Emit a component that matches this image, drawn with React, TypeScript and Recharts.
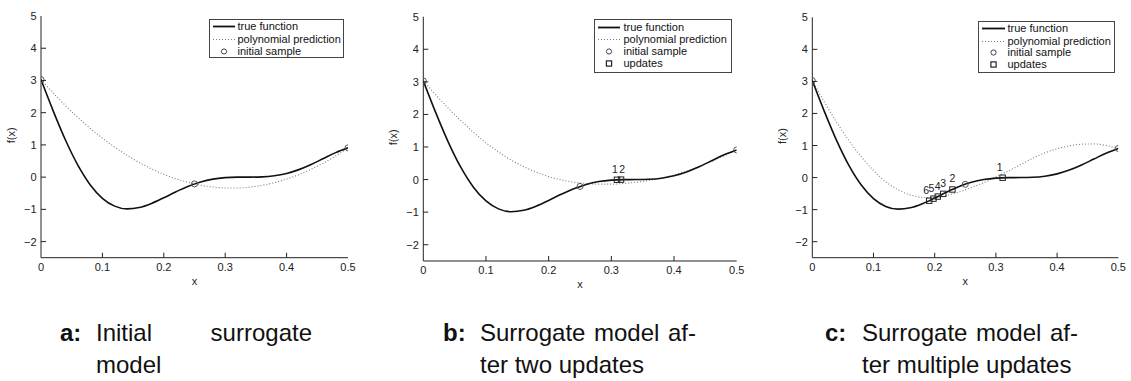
import React from 'react';
import { ComposedChart, Line, Scatter, XAxis, YAxis, Legend, Label } from 'recharts';

// ---------- data ----------
const xGrid = [0, 0.02, 0.04, 0.06, 0.08, 0.1, 0.12, 0.14, 0.16, 0.18, 0.2, 0.22, 0.24, 0.26, 0.28, 0.3, 0.32, 0.34, 0.36, 0.38, 0.4, 0.42, 0.44, 0.46, 0.48, 0.5];
const trueFunction = [3.027, 2.049, 1.144, 0.371, -0.234, -0.657, -0.9, -0.986, -0.944, -0.816, -0.64, -0.452, -0.282, -0.149, -0.061, -0.016, -0.001, 0.0, 0.008, 0.042, 0.115, 0.233, 0.392, 0.577, 0.761, 0.909];
const predictionA = [3.027, 2.608, 2.216, 1.853, 1.517, 1.21, 0.93, 0.678, 0.454, 0.257, 0.089, -0.052, -0.164, -0.249, -0.306, -0.335, -0.336, -0.309, -0.254, -0.171, -0.061, 0.077, 0.244, 0.438, 0.66, 0.91];
const predictionB = [3.027, 2.6, 2.19, 1.81, 1.45, 1.13, 0.85, 0.6, 0.4, 0.23, 0.09, -0.01, -0.08, -0.12, -0.14, -0.14, -0.12, -0.08, -0.03, 0.05, 0.14, 0.26, 0.4, 0.56, 0.73, 0.909];
const predictionC = [3.027, 2.35, 1.72, 1.15, 0.65, 0.22, -0.13, -0.38, -0.54, -0.62, -0.63, -0.55, -0.45, -0.31, -0.16, 0.02, 0.2, 0.4, 0.6, 0.77, 0.9, 0.99, 1.04, 1.05, 1.0, 0.909];

const sampleX = [0, 0.25, 0.5];
const sampleY = [3.027, -0.21, 0.909];

const updatesBX = [0.309, 0.3155];
const updatesBY = [-0.006, -0.002];
const updatesBLabels = ['1', '2'];

const updatesCX = [0.311, 0.229, 0.214, 0.205, 0.198, 0.191];
const updatesCY = [-0.005, -0.372, -0.508, -0.593, -0.658, -0.722];
const updatesCLabels = ['1', '2', '3', '4', '5', '6'];

const xTicks = [0, 0.1, 0.2, 0.3, 0.4, 0.5];
const yTicks = [-2, -1, 0, 1, 2, 3, 4, 5];

const legendLabelsA = ['true function', 'polynomial prediction', 'initial sample'];
const legendLabelsBC = ['true function', 'polynomial prediction', 'initial sample', 'updates'];

const captionLabels = ['a:', 'b:', 'c:'];
const captionLines = [
  ['Initial surrogate', 'model'],
  ['Surrogate model af-', 'ter two updates'],
  ['Surrogate model af-', 'ter multiple updates'],
];

// ---------- style / layout ----------
const FONT = '"Liberation Sans", Arial, Helvetica, sans-serif';
const AXIS = '#222';
const TEXT = '#222';
const CHART_H = 300;
const YW = 30;
const XH = 30;

type LegendGeom = { left: number; top: number; width: number; height: number; rows: number[]; sampleX: number; sampleW: number; textX: number };
type PanelSpec = {
  chartLeft: number;
  plotLeft: number;
  plotRight: number;
  plotTop: number;
  plotBottom: number;
  prediction: number[];
  updX: number[];
  updY: number[];
  updLabels: string[];
  labelNudge: number[];
  legendLabels: string[];
  legend: LegendGeom;
};

const panels: PanelSpec[] = [
  {
    chartLeft: 0, plotLeft: 41, plotRight: 348, plotTop: 16, plotBottom: 257.7,
    prediction: predictionA, updX: [], updY: [], updLabels: [], labelNudge: [],
    legendLabels: legendLabelsA,
    legend: { left: 209, top: 19, width: 135, height: 39, rows: [8, 20.5, 33], sampleX: 4, sampleW: 22, textX: 29 },
  },
  {
    chartLeft: 382, plotLeft: 423.3, plotRight: 736.7, plotTop: 16.7, plotBottom: 261,
    prediction: predictionB, updX: updatesBX, updY: updatesBY, updLabels: updatesBLabels, labelNudge: [-2, 1],
    legendLabels: legendLabelsBC,
    legend: { left: 594, top: 19, width: 138, height: 54, rows: [9, 21, 33, 45], sampleX: 4, sampleW: 22, textX: 30 },
  },
  {
    chartLeft: 771, plotLeft: 812.3, plotRight: 1118.3, plotTop: 17.3, plotBottom: 257.7,
    prediction: predictionC, updX: updatesCX, updY: updatesCY, updLabels: updatesCLabels, labelNudge: [-3, 0, 0, 0, -2, -3],
    legendLabels: legendLabelsBC,
    legend: { left: 978, top: 21, width: 137, height: 52, rows: [8, 20.5, 32, 44], sampleX: 4, sampleW: 23, textX: 30 },
  },
];

const fmtX = (v: number) => (v === 0 ? '0' : String(v));
const fmtY = (v: number) => (v < 0 ? '\u2212' + Math.abs(v) : String(v));

const bottomTick = (p: any) => {
  const v = p.payload.value;
  const inner = v > 0 && v < 0.5;
  return (
    <g>
      {inner && <line x1={p.x} x2={p.x} y1={p.y} y2={p.y - 5} stroke={AXIS} strokeWidth={1} />}
      <text x={p.x} y={p.y + 13.5} textAnchor="middle" fontSize={11} fontFamily={FONT} fill={TEXT}>{fmtX(v)}</text>
    </g>
  );
};
const topTick = (p: any) => {
  const v = p.payload.value;
  if (!(v > 0 && v < 0.5)) return <g />;
  return <line x1={p.x} x2={p.x} y1={p.y} y2={p.y + 5} stroke={AXIS} strokeWidth={1} />;
};
const leftTick = (p: any) => {
  const v = p.payload.value;
  return (
    <g>
      {v < 5 && <line x1={p.x} x2={p.x + 5} y1={p.y} y2={p.y} stroke={AXIS} strokeWidth={1} />}
      <text x={p.x - 4.5} y={p.y + 4} textAnchor="end" fontSize={11} fontFamily={FONT} fill={TEXT}>{fmtY(v)}</text>
    </g>
  );
};
const rightTick = (p: any) => {
  const v = p.payload.value;
  if (v >= 5) return <g />;
  return <line x1={p.x} x2={p.x - 5} y1={p.y} y2={p.y} stroke={AXIS} strokeWidth={1} />;
};

const circleShape = (p: any) => (
  <circle cx={p.cx} cy={p.cy} r={3} fill="none" stroke="#555" strokeWidth={1} />
);
const squareShape = (p: any) => (
  <g>
    <rect x={p.cx - 2.7} y={p.cy - 2.7} width={5.4} height={5.4} fill="none" stroke="#222" strokeWidth={1} />
    <text x={p.cx + (p.payload.nudge || 0)} y={p.cy - 7} textAnchor="middle" fontSize={10.5} fontFamily={FONT} fill={TEXT}>
      {p.payload.label}
    </text>
  </g>
);

function LegendBox({ lg, labels }: { lg: LegendGeom; labels: string[] }) {
  const b = 1.5;
  return (
    <div
      style={{
        position: 'relative', width: lg.width, height: lg.height, boxSizing: 'border-box',
        border: `${b}px solid #444`, background: '#fff', fontFamily: FONT, fontSize: 11, color: '#111',
      }}
    >
      {labels.map((lab, i) => (
        <div key={lab} style={{ position: 'absolute', left: 0, top: lg.rows[i] - 6.5 - b, height: 13, width: '100%' }}>
          <svg style={{ position: 'absolute', left: lg.sampleX - b, top: 0 }} width={lg.sampleW} height={13}>
            {i === 0 && <line x1={0} x2={lg.sampleW} y1={6.5} y2={6.5} stroke="#111" strokeWidth={1.8} />}
            {i === 1 && <line x1={0} x2={lg.sampleW} y1={6.5} y2={6.5} stroke="#777" strokeWidth={1.1} strokeDasharray="1 2" />}
            {i === 2 && <circle cx={lg.sampleW / 2} cy={6.5} r={2.6} fill="none" stroke="#444" strokeWidth={1} />}
            {i === 3 && <rect x={lg.sampleW / 2 - 2.6} y={3.9} width={5.2} height={5.2} fill="none" stroke="#222" strokeWidth={1.2} />}
          </svg>
          <span style={{ position: 'absolute', left: lg.textX - b, top: 0, lineHeight: '13px', whiteSpace: 'nowrap' }}>{lab}</span>
        </div>
      ))}
    </div>
  );
}

function Panel({ spec }: { spec: PanelSpec }) {
  const W = spec.plotRight - spec.chartLeft + 10;
  const margin = {
    top: spec.plotTop,
    left: spec.plotLeft - spec.chartLeft - YW,
    right: W - spec.plotRight + spec.chartLeft,
    bottom: CHART_H - spec.plotBottom - XH,
  };
  const trueData = xGrid.map((x, i) => ({ x, y: trueFunction[i] }));
  const predData = xGrid.map((x, i) => ({ x, y: spec.prediction[i] }));
  const samples = sampleX.map((x, i) => ({ x, y: sampleY[i] }));
  const updates = spec.updX.map((x, i) => ({ x, y: spec.updY[i], label: spec.updLabels[i], nudge: spec.labelNudge[i] }));
  const lg = spec.legend;

  return (
    <div style={{ position: 'absolute', left: spec.chartLeft, top: 0 }}>
      <ComposedChart width={W} height={CHART_H} margin={margin}>
        <XAxis
          dataKey="x" type="number" domain={[0, 0.5]} ticks={xTicks} interval={0}
          tickSize={0} tickMargin={0} tickLine={false} axisLine={{ stroke: AXIS, strokeWidth: 1 }}
          tick={bottomTick} height={XH} allowDataOverflow
        >
          <Label
            content={(p: any) => {
              const vb = p.viewBox || { x: 0, y: 0, width: 0 };
              return (
                <text x={vb.x + vb.width / 2} y={vb.y + 27.3} textAnchor="middle" fontSize={11} fontFamily={FONT} fill={TEXT}>x</text>
              );
            }}
          />
        </XAxis>
        <XAxis
          xAxisId="top" orientation="top" dataKey="x" type="number" domain={[0, 0.5]} ticks={xTicks} interval={0}
          tickSize={0} tickMargin={0} tickLine={false} axisLine={{ stroke: AXIS, strokeWidth: 1 }}
          tick={topTick} height={0} allowDataOverflow
        />
        <YAxis
          type="number" domain={[-2.5, 5]} ticks={yTicks} interval={0}
          tickSize={0} tickMargin={0} tickLine={false} axisLine={{ stroke: AXIS, strokeWidth: 1 }}
          tick={leftTick} width={YW} allowDataOverflow
        >
          <Label
            content={(p: any) => {
              const vb = p.viewBox || { x: 0, y: 0, height: 0 };
              const cx = vb.x + 4;
              const cy = vb.y + vb.height / 2 - 1.5;
              return (
                <text x={cx} y={cy} transform={`rotate(-90 ${cx} ${cy})`} textAnchor="middle" fontSize={11} fontFamily={FONT} fill={TEXT}>f(x)</text>
              );
            }}
          />
        </YAxis>
        <YAxis
          yAxisId="right" orientation="right" type="number" domain={[-2.5, 5]} ticks={yTicks} interval={0}
          tickSize={0} tickMargin={0} tickLine={false} axisLine={{ stroke: AXIS, strokeWidth: 1 }}
          tick={rightTick} width={0} allowDataOverflow
        />
        <Line
          data={predData} dataKey="y" type="monotone" dot={false} activeDot={false}
          stroke="#7a7a7a" strokeWidth={1.1} strokeDasharray="1 2" isAnimationActive={false}
        />
        <Line
          data={trueData} dataKey="y" type="monotone" dot={false} activeDot={false}
          stroke="#111" strokeWidth={1.6} isAnimationActive={false}
        />
        <Scatter data={samples} dataKey="y" shape={circleShape} isAnimationActive={false} />
        {updates.length > 0 && <Scatter data={updates} dataKey="y" shape={squareShape} isAnimationActive={false} />}
        <Legend
          layout="vertical" align="center" verticalAlign="middle"
          wrapperStyle={{ position: 'absolute', left: lg.left - spec.chartLeft, top: lg.top, width: lg.width, height: lg.height, margin: 0, padding: 0 }}
          content={() => <LegendBox lg={lg} labels={spec.legendLabels} />}
        />
      </ComposedChart>
    </div>
  );
}

const captionLabelX = [60, 443, 825];
const captionTextX = [96, 480, 862];
const captionTextW = [216, 216, 216];

function Captions() {
  const top1 = 316.7;
  const lh = 32;
  return (
    <>
      {captionLabels.map((lab, i) => (
        <div key={lab} style={{ position: 'absolute', left: 0, top: 0, fontFamily: FONT, fontSize: 24, color: '#111', lineHeight: `${lh}px` }}>
          <div style={{ position: 'absolute', left: captionLabelX[i], top: top1, fontWeight: 'bold', whiteSpace: 'nowrap' }}>{lab}</div>
          <div
            style={{
              position: 'absolute', left: captionTextX[i], top: top1, width: captionTextW[i], whiteSpace: 'nowrap',
              textAlign: 'justify', textAlignLast: 'justify',
            } as React.CSSProperties}
          >
            {captionLines[i][0]}
          </div>
          <div style={{ position: 'absolute', left: captionTextX[i], top: top1 + lh, whiteSpace: 'nowrap' }}>{captionLines[i][1]}</div>
        </div>
      ))}
    </>
  );
}

export default function App() {
  return (
    <div style={{ position: 'absolute', left: 0, top: 0, width: 1131, height: 381, background: '#fff', overflow: 'hidden' }}>
      {panels.map((p, i) => (
        <Panel key={i} spec={p} />
      ))}
      <Captions />
    </div>
  );
}
